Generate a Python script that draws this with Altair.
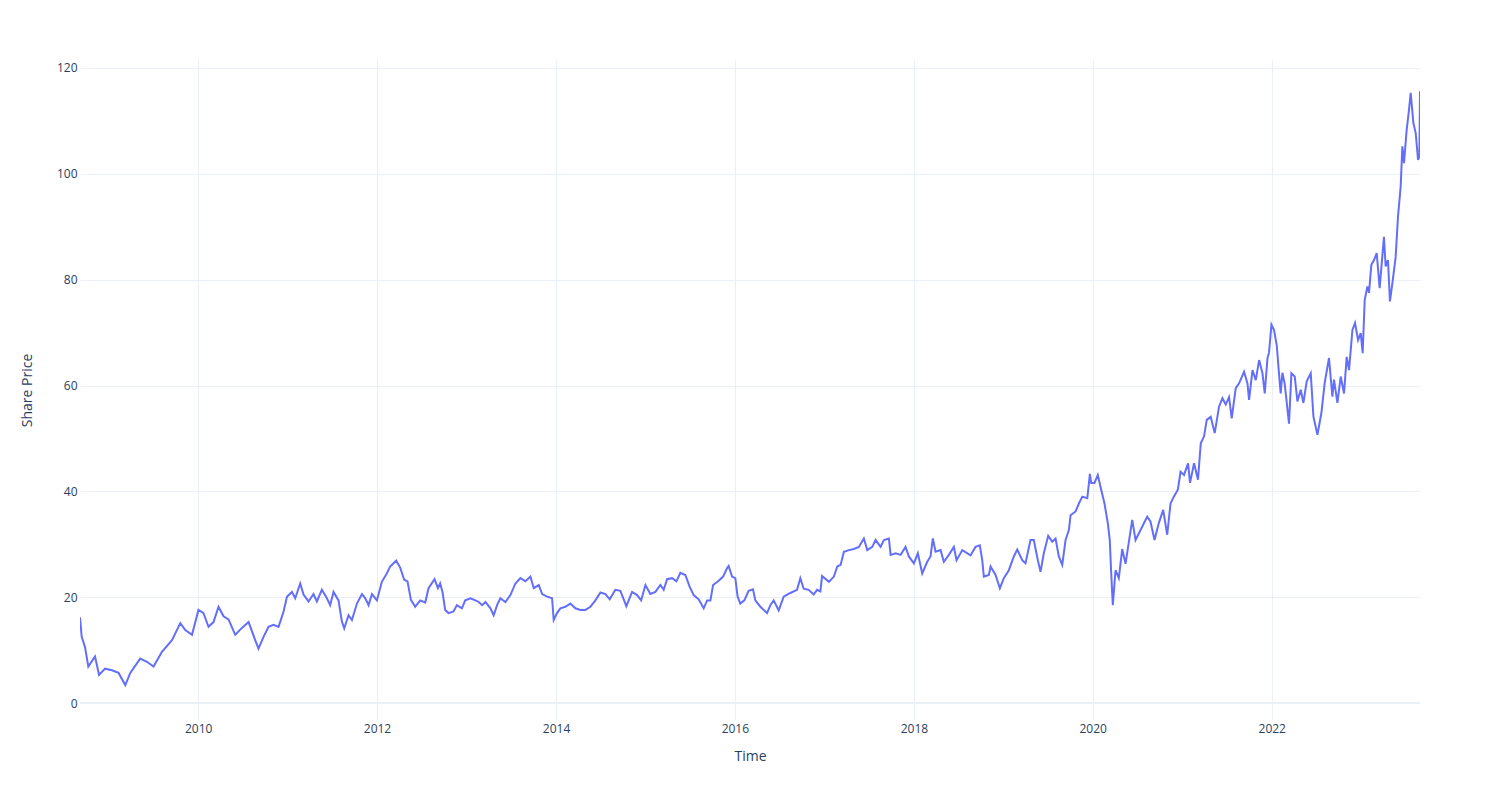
import altair as alt
import pandas as pd

# Decimal-year time stamps
years = [
    2008.680, 2008.699, 2008.736, 2008.773, 2008.848, 2008.893, 2008.960, 2009.035, 2009.109, 2009.184,
    2009.240, 2009.351, 2009.426, 2009.500, 2009.594, 2009.706, 2009.799, 2009.855, 2009.930, 2010.003,
    2010.059, 2010.115, 2010.171, 2010.227, 2010.283, 2010.339, 2010.414, 2010.489, 2010.563, 2010.637,
    2010.674, 2010.730, 2010.786, 2010.842, 2010.898, 2010.954, 2010.992, 2011.048, 2011.085, 2011.141,
    2011.178, 2011.234, 2011.289, 2011.327, 2011.383, 2011.439, 2011.476, 2011.513, 2011.569, 2011.607,
    2011.633, 2011.681, 2011.719, 2011.775, 2011.831, 2011.868, 2011.905, 2011.943, 2011.998, 2012.054,
    2012.110, 2012.147, 2012.214, 2012.259, 2012.304, 2012.341, 2012.379, 2012.427, 2012.483, 2012.539,
    2012.576, 2012.643, 2012.681, 2012.706, 2012.732, 2012.762, 2012.799, 2012.855, 2012.893, 2012.949,
    2012.986, 2013.042, 2013.098, 2013.135, 2013.173, 2013.210, 2013.266, 2013.302, 2013.340, 2013.377,
    2013.433, 2013.489, 2013.545, 2013.601, 2013.657, 2013.713, 2013.750, 2013.806, 2013.844, 2013.900,
    2013.955, 2013.973, 2014.011, 2014.048, 2014.104, 2014.160, 2014.216, 2014.272, 2014.328, 2014.384,
    2014.440, 2014.496, 2014.552, 2014.600, 2014.663, 2014.719, 2014.786, 2014.850, 2014.906, 2014.951,
    2014.999, 2015.055, 2015.111, 2015.167, 2015.204, 2015.242, 2015.298, 2015.346, 2015.390, 2015.446,
    2015.494, 2015.539, 2015.595, 2015.651, 2015.689, 2015.726, 2015.756, 2015.819, 2015.868, 2015.913,
    2015.930, 2015.968, 2016.005, 2016.031, 2016.061, 2016.106, 2016.154, 2016.203, 2016.229, 2016.285,
    2016.360, 2016.397, 2016.434, 2016.490, 2016.546, 2016.620, 2016.695, 2016.732, 2016.769, 2016.825,
    2016.881, 2016.919, 2016.956, 2016.975, 2017.049, 2017.105, 2017.143, 2017.180, 2017.217, 2017.272,
    2017.328, 2017.384, 2017.440, 2017.478, 2017.534, 2017.571, 2017.627, 2017.664, 2017.720, 2017.739,
    2017.795, 2017.851, 2017.906, 2017.943, 2017.999, 2018.044, 2018.093, 2018.149, 2018.186, 2018.212,
    2018.242, 2018.298, 2018.335, 2018.391, 2018.447, 2018.477, 2018.541, 2018.633, 2018.689, 2018.737,
    2018.764, 2018.782, 2018.838, 2018.857, 2018.913, 2018.961, 2019.006, 2019.062, 2019.118, 2019.156,
    2019.212, 2019.248, 2019.304, 2019.341, 2019.386, 2019.416, 2019.453, 2019.502, 2019.547, 2019.584,
    2019.621, 2019.659, 2019.696, 2019.733, 2019.752, 2019.808, 2019.845, 2019.883, 2019.939, 2019.968,
    2019.983, 2020.020, 2020.057, 2020.095, 2020.132, 2020.169, 2020.191, 2020.207, 2020.225, 2020.255,
    2020.292, 2020.330, 2020.367, 2020.442, 2020.479, 2020.535, 2020.609, 2020.646, 2020.691, 2020.739,
    2020.788, 2020.833, 2020.870, 2020.907, 2020.952, 2020.982, 2021.019, 2021.064, 2021.086, 2021.131,
    2021.175, 2021.206, 2021.243, 2021.273, 2021.317, 2021.362, 2021.410, 2021.448, 2021.485, 2021.522,
    2021.552, 2021.597, 2021.634, 2021.690, 2021.728, 2021.746, 2021.784, 2021.821, 2021.858, 2021.896,
    2021.921, 2021.952, 2021.969, 2021.996, 2022.025, 2022.056, 2022.081, 2022.100, 2022.119, 2022.145,
    2022.193, 2022.220, 2022.257, 2022.287, 2022.324, 2022.354, 2022.391, 2022.436, 2022.466, 2022.511,
    2022.555, 2022.592, 2022.640, 2022.678, 2022.696, 2022.734, 2022.771, 2022.808, 2022.838, 2022.864,
    2022.902, 2022.931, 2022.965, 2022.995, 2023.017, 2023.040, 2023.070, 2023.088, 2023.114, 2023.144,
    2023.174, 2023.207, 2023.255, 2023.274, 2023.300, 2023.322, 2023.349, 2023.386, 2023.412, 2023.442,
    2023.461, 2023.479, 2023.509, 2023.535, 2023.554, 2023.584, 2023.610, 2023.636, 2023.651, 2023.658,
]

prices = [
    16.2, 12.5, 10.6, 6.9, 8.8, 5.3, 6.5, 6.2, 5.7, 3.4,
    5.7, 8.4, 7.8, 6.9, 9.7, 11.9, 15.1, 13.8, 12.9, 17.6,
    17.0, 14.4, 15.3, 18.2, 16.4, 15.8, 12.9, 14.2, 15.3, 11.9,
    10.3, 12.5, 14.4, 14.8, 14.4, 17.3, 20.1, 21.0, 19.8, 22.6,
    20.5, 19.2, 20.6, 19.2, 21.4, 19.8, 18.5, 21.0, 19.4, 15.4,
    14.1, 16.6, 15.7, 18.8, 20.6, 19.8, 18.5, 20.6, 19.4, 22.9,
    24.5, 25.8, 26.9, 25.6, 23.3, 23.0, 19.5, 18.2, 19.4, 19.0,
    21.7, 23.4, 21.7, 22.6, 21.0, 17.6, 17.0, 17.3, 18.5, 17.9,
    19.4, 19.8, 19.4, 19.1, 18.5, 19.1, 17.9, 16.6, 18.5, 19.8,
    19.1, 20.4, 22.6, 23.6, 23.0, 23.9, 21.7, 22.3, 20.6, 20.1,
    19.8, 15.7, 17.0, 17.9, 18.2, 18.8, 17.9, 17.6, 17.6, 18.2,
    19.4, 20.9, 20.6, 19.6, 21.4, 21.2, 18.3, 21.0, 20.4, 19.4,
    22.3, 20.6, 21.0, 22.3, 21.4, 23.4, 23.6, 23.0, 24.6, 24.2,
    22.0, 20.4, 19.6, 17.9, 19.4, 19.4, 22.3, 23.1, 23.9, 25.5,
    25.9, 23.9, 23.6, 20.1, 18.8, 19.4, 21.2, 21.5, 19.4, 18.2,
    17.0, 18.5, 19.4, 17.5, 20.1, 20.8, 21.4, 23.6, 21.6, 21.4,
    20.5, 21.4, 21.1, 24.0, 22.9, 23.9, 25.8, 26.1, 28.6, 28.9,
    29.1, 29.5, 31.1, 28.9, 29.5, 30.8, 29.5, 30.8, 31.1, 28.0,
    28.3, 28.0, 29.5, 27.7, 26.4, 28.3, 24.5, 26.7, 27.7, 31.1,
    28.6, 28.9, 26.7, 28.0, 29.5, 27.0, 28.9, 27.9, 29.5, 29.8,
    27.0, 23.9, 24.2, 25.8, 24.2, 21.7, 23.6, 25.1, 27.7, 29.0,
    27.0, 26.4, 30.8, 30.8, 27.0, 24.8, 28.3, 31.6, 30.5, 31.1,
    27.7, 26.1, 30.8, 32.7, 35.5, 36.2, 37.7, 39.0, 38.7, 43.3,
    41.6, 41.6, 43.1, 40.3, 37.7, 34.0, 30.8, 24.5, 18.5, 25.1,
    23.6, 29.1, 26.3, 34.6, 30.8, 32.7, 35.2, 34.3, 30.8, 34.0,
    36.5, 31.8, 37.7, 39.0, 40.3, 43.7, 43.1, 45.3, 41.6, 45.3,
    42.2, 49.1, 50.4, 53.5, 54.1, 51.0, 56.0, 57.6, 56.4, 57.8,
    53.8, 59.5, 60.4, 62.6, 60.4, 57.3, 62.9, 61.0, 64.8, 62.3,
    58.5, 65.2, 66.2, 71.5, 70.5, 67.6, 62.3, 58.5, 62.4, 60.3,
    52.8, 62.3, 61.7, 57.0, 59.2, 56.7, 60.8, 62.3, 54.1, 50.7,
    54.8, 60.5, 65.2, 57.9, 61.1, 56.7, 61.7, 58.5, 65.4, 62.9,
    70.5, 71.8, 68.6, 69.9, 66.1, 76.2, 78.7, 77.5, 82.8, 83.7,
    85.0, 78.4, 88.1, 82.5, 83.7, 75.9, 79.3, 84.3, 91.9, 97.6,
    105.2, 102.0, 108.3, 112.1, 115.3, 109.6, 107.7, 102.6, 103.3, 115.6,
]

y_ticks = [0, 20, 40, 60, 80, 100, 120]
x_tick_years = [2010, 2012, 2014, 2016, 2018, 2020, 2022]


def to_ts(y):
    base = pd.Timestamp(year=int(y), month=1, day=1)
    return base + pd.Timedelta(days=(y - int(y)) * 365.25)


df = pd.DataFrame({"Time": [to_ts(y) for y in years], "Price": prices})

FONT = "Open Sans"
TXT = "#2a3f5f"
GRID = "#EBF0F8"

x_enc = alt.X(
    "Time:T",
    scale=alt.Scale(domain=[df["Time"].min().isoformat(), df["Time"].max().isoformat()], nice=False),
    axis=alt.Axis(
        title="Time",
        values=[alt.DateTime(year=y) for y in x_tick_years],
        format="%Y",
        domain=False,
        ticks=False,
        grid=True,
        gridColor=GRID,
        gridWidth=1,
        labelPadding=3,
        labelFont=FONT,
        labelFontSize=12,
        labelColor=TXT,
        titleFont=FONT,
        titleFontSize=14,
        titleFontWeight="normal",
        titleColor=TXT,
        titleX=670,
        titleY=36,
        titleAlign="center",
        titleBaseline="middle",
    ),
)

y_enc = alt.Y(
    "Price:Q",
    scale=alt.Scale(domain=[-3.2, 121.5], nice=False, zero=False),
    axis=alt.Axis(
        title="Share Price",
        values=y_ticks,
        domain=False,
        ticks=False,
        grid=True,
        gridColor=GRID,
        gridWidth=1,
        labelPadding=3,
        labelFont=FONT,
        labelFontSize=12,
        labelColor=TXT,
        titleFont=FONT,
        titleFontSize=14,
        titleFontWeight="normal",
        titleColor=TXT,
        titleX=-53,
        titleY=330,
        titleAngle=270,
        titleAlign="center",
        titleBaseline="middle",
    ),
)

zero_df = pd.DataFrame({"z": [0]})
zero_line = alt.Chart(zero_df).mark_rule(color=GRID, strokeWidth=2).encode(
    y=alt.Y("z:Q", scale=alt.Scale(domain=[-3.2, 121.5], nice=False, zero=False))
)

line = alt.Chart(df).mark_line(color="#636efa", strokeWidth=2, clip=True).encode(
    x=x_enc, y=y_enc
)

chart = (
    alt.layer(zero_line, line)
    .properties(
        width=1340,
        height=660,
        autosize=alt.AutoSizeParams(type="none"),
        padding={"left": 80, "top": 60, "right": 80, "bottom": 80},
        background="white",
    )
    .configure_view(stroke=None)
)

chart.save("out.html", embed_options={"renderer": "svg", "actions": False})
